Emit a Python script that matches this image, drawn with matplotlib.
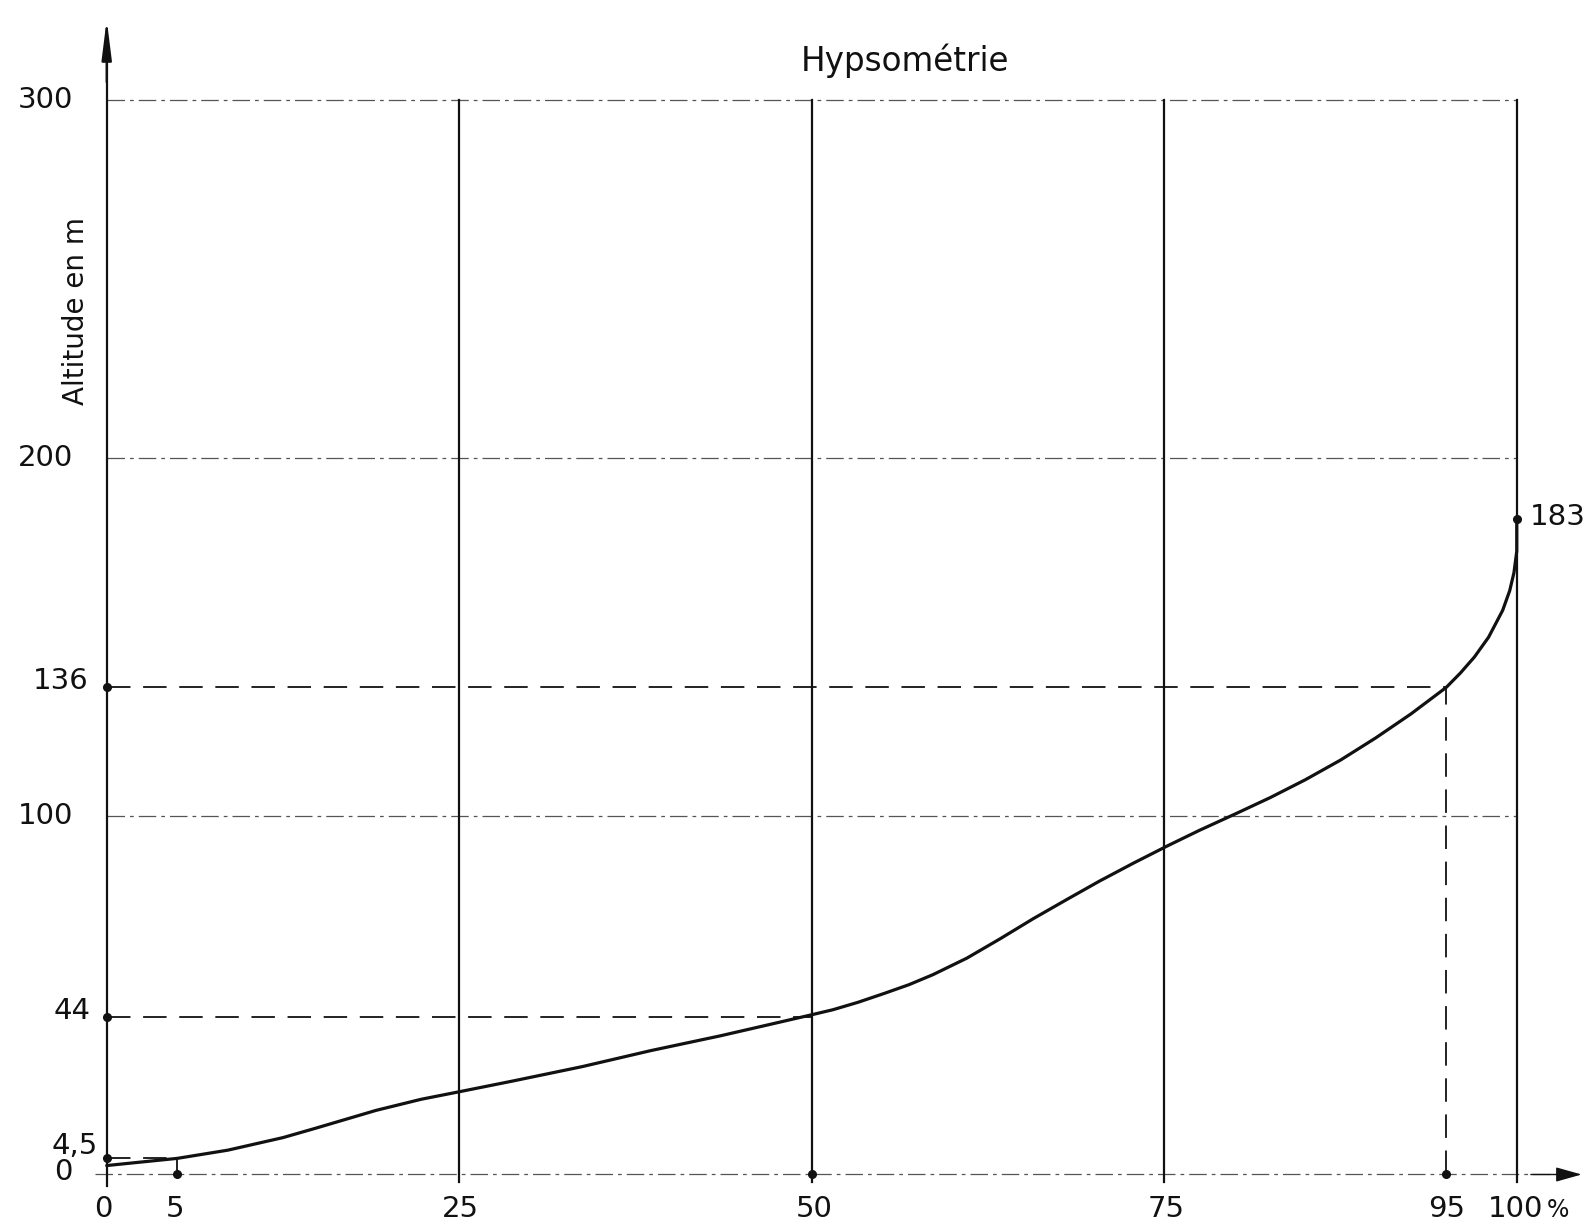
import matplotlib
matplotlib.use("Agg")
import matplotlib.pyplot as plt

plt.rcParams['font.family'] = ['DejaVu Sans']

# Hypsometric curve: cumulative share of area (%) vs altitude (m)
pct = [0, 2.5, 5, 8.6, 12.5, 14.8, 19.1, 22.3, 25, 28.8, 33.7, 38.6, 43.5, 46.7, 50,
       51.5, 53.3, 55.1, 56.9, 58.6, 61.0, 63.4, 65.7, 68.1, 70.4, 72.8, 75.2,
       77.5, 80, 82.5, 85, 87.5, 90, 92.5, 95, 96, 97, 98, 99, 99.5, 99.8, 100, 100]
alt = [2.5, 3.5, 4.5, 6.8, 10.3, 12.9, 17.9, 21.0, 23.1, 26.1, 30.1, 34.6, 38.7, 41.6, 44.6,
       46.0, 48.1, 50.5, 53.0, 55.8, 60.4, 65.9, 71.4, 76.8, 81.9, 86.9, 91.7,
       96.1, 100.6, 105.2, 110.2, 115.7, 121.9, 128.6, 136, 140, 144.5, 150, 157.5, 163, 168, 174, 183]

# Reference points (percent of area, altitude)
key_pct = [5, 50, 95]
key_alt = [4.5, 44, 136]
peak_alt = 183

# Grid
grid_alt = [100, 200, 300]
grid_pct = [25, 50, 75, 100]

y_tick_vals = [300, 200, 136, 100, 44, 4.5, 0]
y_tick_labels = ["300", "200", "136", "100", "44", "4,5", "0"]
x_tick_vals = [0, 5, 25, 50, 75, 95, 100]
x_tick_labels = ["0", "5", "25", "50", "75", "95", "100"]
x_unit = "%"

fig = plt.figure(figsize=(15.85, 12.25), dpi=100)
ax = fig.add_axes([0, 0, 1, 1])
ax.set_xlim(-7.567, 104.84)
ax.set_ylim(-14.10, 327.92)
ax.axis('off')

ink = '#111111'
grey = '#555555'

# horizontal dash-dot grid lines and the baseline
for g in grid_alt:
    ax.plot([0, 100], [g, g], color=grey, lw=0.9, linestyle=(0, (14, 4, 3, 4)))
ax.plot([-0.8, 103], [0, 0], color=grey, lw=0.9, linestyle=(0, (14, 4, 3, 4)))

# vertical solid lines
for g in grid_pct:
    ax.plot([g, g], [-2, 300], color=ink, lw=1.6)

# axes with arrows
ax.plot([0, 0], [-3.2, 312], color=ink, lw=1.6)
ax.annotate('', xy=(0, 322.5), xytext=(0, 305),
            arrowprops=dict(arrowstyle='-|>,head_length=2.4,head_width=0.3',
                            color=ink, lw=1.6, shrinkA=0, shrinkB=0))
ax.annotate('', xy=(104.6, 0), xytext=(101, 0),
            arrowprops=dict(arrowstyle='-|>,head_length=1.6,head_width=0.45',
                            color=ink, lw=1.0, shrinkA=0, shrinkB=0))

# dashed guide lines to the reference points
dash = (0, (13, 7))
for p, a in zip(key_pct, key_alt):
    ax.plot([0, p], [a, a], color=ink, lw=1.3, linestyle=dash)
    ax.plot([p, p], [0, a], color=ink, lw=1.3, linestyle=dash)

# curve
ax.plot(pct, alt, color=ink, lw=2.3, solid_joinstyle='round', solid_capstyle='round')

# reference dots
ax.plot([0] * len(key_alt), key_alt, 'o', color=ink, ms=5.5)
ax.plot(key_pct, [0] * len(key_pct), 'o', color=ink, ms=5.5)
ax.plot([100], [peak_alt], 'o', color=ink, ms=5.5)

fs = 21
# y labels
y_pos = {300: (-2.41, 297.7), 200: (-2.41, 197.8), 136: (-1.30, 135.5),
         100: (-2.41, 97.9), 44: (-1.11, 43.4), 4.5: (-0.62, 5.6), 0: (-2.41, -1.4)}
for v, lab in zip(y_tick_vals, y_tick_labels):
    x, y = y_pos[v]
    ax.text(x, y, lab, ha='right', va='baseline', fontsize=fs, color=ink)

# x labels
x_pos = {0: -0.26, 5: 4.84, 25: 25.05, 50: 50.2, 75: 75.1, 95: 95.0, 100: 99.9}
for v, lab in zip(x_tick_vals, x_tick_labels):
    ax.text(x_pos[v], -11.8, lab, ha='center', va='baseline', fontsize=fs, color=ink)
ax.text(102.15, -11.8, x_unit, ha='left', va='baseline', fontsize=17, color=ink)

ax.text(100.9, 181.3, str(peak_alt), ha='left', va='baseline', fontsize=fs, color=ink)

ax.text(-1.18, 241.1, "Altitude en m", rotation=90, ha='right', va='center',
        fontsize=20, color=ink)
ax.text(56.65, 308.0, "Hypsométrie", ha='center', va='baseline', fontsize=23.5, color=ink)

fig.savefig("out.png", dpi=100)
